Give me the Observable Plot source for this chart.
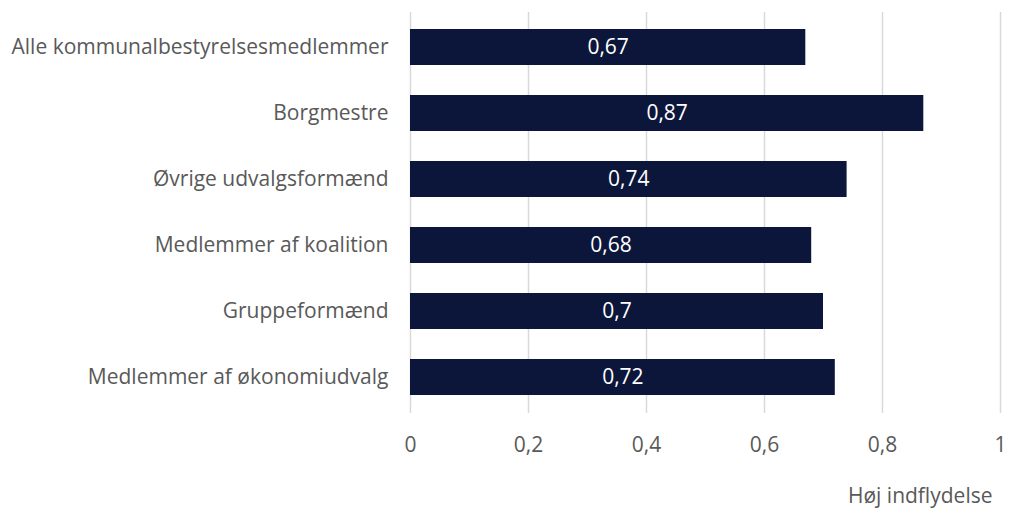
<!DOCTYPE html>
<html><head><meta charset="utf-8">
<script src="https://cdn.jsdelivr.net/npm/d3@7"></script>
<script src="https://cdn.jsdelivr.net/npm/@observablehq/plot@0.6"></script>
<style>body{margin:0;background:#fff;font-family:"Open Sans",sans-serif;}</style>
</head><body><div id="chart"></div>
<script>
const categories = ["Alle kommunalbestyrelsesmedlemmer","Borgmestre","Øvrige udvalgsformænd","Medlemmer af koalition","Gruppeformænd","Medlemmer af økonomiudvalg"];
const values = [0.67, 0.87, 0.74, 0.68, 0.70, 0.72];
const xTicks = [0, 0.2, 0.4, 0.6, 0.8, 1];
const xLabel = "Høj indflydelse";
const data = categories.map((c, i) => ({cat: c, v: values[i]}));
const fmt = d => String(d).replace(".", ",");
const FS = 21;
const chart = Plot.plot({
  width: 1009, height: 508,
  marginLeft: 410, marginRight: 9, marginTop: 12, marginBottom: 95,
  style: {fontFamily: "'Open Sans', sans-serif", fontSize: FS + "px", color: "#595959", background: "#fff"},
  x: {domain: [0, 1], ticks: xTicks, tickFormat: fmt},
  y: {domain: categories, paddingInner: 0.45, paddingOuter: 0.225},
  marks: [
    Plot.gridX(xTicks, {stroke: "#d9d9d9", strokeOpacity: 1, strokeWidth: 1.5}),
    Plot.axisX(xTicks, {tickSize: 0, tickPadding: 24, tickFormat: fmt, fontSize: FS, fill: "#595959", label: null}),
    Plot.text([xLabel], {frameAnchor: "bottom-right", dy: 89, dx: -8, textAnchor: "end", fontSize: FS, fill: "#595959", letterSpacing: 0.5}),
    Plot.axisY({tickSize: 0, tickPadding: 22, fontSize: FS, fill: "#595959", label: null}),
    Plot.barX(data, {x: "v", y: "cat", fill: "#0c163b"}),
    Plot.text(data, {x: d => d.v / 2, y: "cat", text: d => fmt(d.v), fill: "white", fontSize: FS})
  ]
});
document.getElementById("chart").appendChild(chart);
</script></body></html>
